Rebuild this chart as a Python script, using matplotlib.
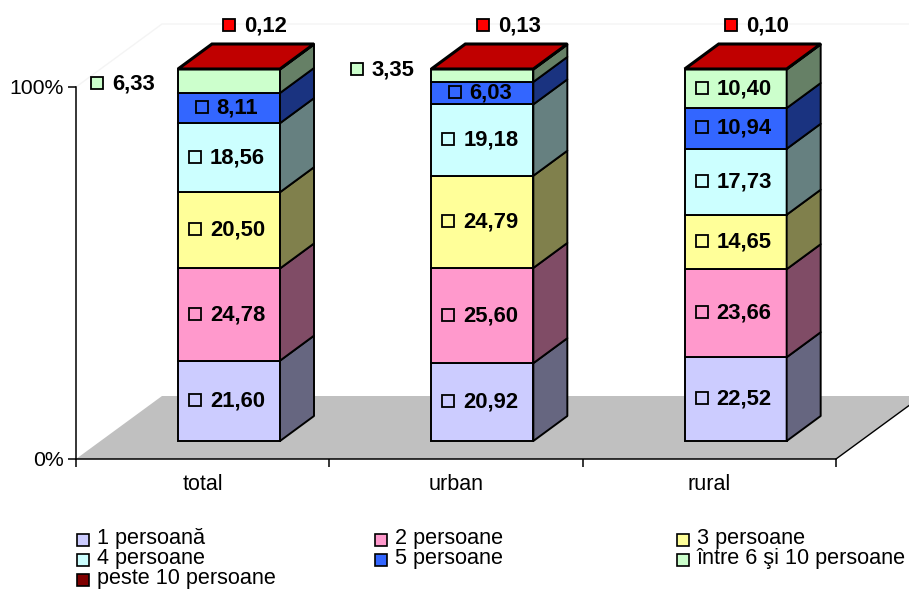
import matplotlib
matplotlib.use("Agg")
import matplotlib.pyplot as plt
from matplotlib.patches import Polygon
from matplotlib.transforms import Affine2D
import numpy as np

plt.rcParams['font.family'] = ['Liberation Sans', 'DejaVu Sans']

categories = ['total', 'urban', 'rural']
series_names = ['1 persoană', '2 persoane', '3 persoane', '4 persoane',
                '5 persoane', 'între 6 şi 10 persoane', 'peste 10 persoane']
pers_1 = [21.60, 20.92, 22.52]
pers_2 = [24.78, 25.60, 23.66]
pers_3 = [20.50, 24.79, 14.65]
pers_4 = [18.56, 19.18, 17.73]
pers_5 = [8.11, 6.03, 10.94]
pers_6_10 = [6.33, 3.35, 10.40]
pers_10 = [0.12, 0.13, 0.10]
series = [pers_1, pers_2, pers_3, pers_4, pers_5, pers_6_10, pers_10]

front = ['#CCCCFF', '#FF99CC', '#FFFF99', '#CCFFFF', '#3366FF', '#CCFFCC', '#FF0000']
side = ['#666680', '#804C66', '#80804C', '#668080', '#1A3380', '#668066', '#800000']
legend_col = ['#CCCCFF', '#FF99CC', '#FFFF99', '#CCFFFF', '#3366FF', '#CCFFCC', '#800000']
top_col = '#C00000'

W, H = 909, 590
fig = plt.figure(figsize=(W / 100, H / 100), dpi=100)
ax = fig.add_axes([76 / W, 1 - 459 / H, 760 / W, 372 / H])
ax.set_xlim(0, 3)
ax.set_ylim(0, 100)
ax.set_facecolor('none')
px = Affine2D().scale(1 / W, -1 / H).translate(0, 1) + fig.transFigure

# projection constants in data units
ux, uy = 253.33, 3.72
floor_dx, floor_dy = 86 / ux, 63 / uy
bar_x0, bar_w = 102 / ux, 102 / ux
base = 18 / uy
depth_x, depth_y = 34 / ux, 25 / uy
LW = 1.4

# faint back wall, floor
ax.plot([0, floor_dx, 3 + floor_dx], [100, 100 + floor_dy, 100 + floor_dy],
        color='#F4F4F4', lw=1, clip_on=False, zorder=0.5)
ax.add_patch(Polygon([(0, 0), (floor_dx, floor_dy), (3 + floor_dx, floor_dy), (3, 0)],
                     closed=True, fc='#C0C0C0', ec='none', clip_on=False, zorder=1))
ax.plot([3, 3 + floor_dx], [0, floor_dy], color='black', lw=1, clip_on=False, zorder=1.5)

cum = np.zeros(3)
xs = np.arange(3) + bar_x0
for j, vals in enumerate(series):
    vals = np.array(vals)
    bottoms = cum + base
    ax.bar(xs, vals, width=bar_w, bottom=bottoms, align='edge', color=front[j],
           edgecolor='black', linewidth=LW, clip_on=False, zorder=3)
    for x, b, v in zip(xs, bottoms, vals):
        r = x + bar_w
        ax.add_patch(Polygon([(r, b), (r + depth_x, b + depth_y),
                              (r + depth_x, b + v + depth_y), (r, b + v)],
                             closed=True, fc=side[j], ec='black', lw=LW,
                             clip_on=False, zorder=3, joinstyle='round'))
    cum = cum + vals

# top faces
for x, t in zip(xs, cum + base):
    ax.add_patch(Polygon([(x, t), (x + depth_x, t + depth_y),
                          (x + bar_w + depth_x, t + depth_y), (x + bar_w, t)],
                         closed=True, fc=top_col, ec='black', lw=LW + 0.8,
                         clip_on=False, zorder=3.5))

# data labels: (series, category) positions that sit outside their segment
outside = {(5, 0): (97, 83, 112), (5, 1): (357, 69, 372),
           (6, 0): (229, 25, 244), (6, 1): (483, 25, 498), (6, 2): (731, 25, 746)}
LABEL_FS = 15.8
MS = 9
cum = np.zeros(3)
for j, vals in enumerate(series):
    for i, v in enumerate(vals):
        s = f'{v:.2f}'.replace('.', ',')
        if (j, i) in outside:
            mx, my, tx = outside[(j, i)]
            ax.plot([mx], [my], marker='s', ms=MS, mfc=front[j], mec='black', mew=1.3,
                    transform=px, clip_on=False, zorder=5)
            ax.text(tx, my + 1, s, transform=px, ha='left', va='center', fontsize=LABEL_FS,
                    fontweight='bold', color='black', zorder=5)
        else:
            cx = i + bar_x0 + bar_w / 2
            cy = cum[i] + v / 2 + base
            ax.plot([cx], [cy], marker='s', ms=MS, mfc=front[j], mec='black', mew=1.3,
                    clip_on=False, zorder=5,
                    transform=ax.transData + Affine2D().translate(-34 if v >= 10 else -27, 1))
            ax.annotate(s, xy=(cx, cy), xytext=(-19 if v >= 10 else -13, 0),
                        textcoords='offset pixels', ha='left', va='center', fontsize=LABEL_FS,
                        fontweight='bold', color='black', zorder=5)
    cum = cum + np.array(vals)

# axes
for sp in ('top', 'right'):
    ax.spines[sp].set_visible(False)
for sp in ('left', 'bottom'):
    ax.spines[sp].set_linewidth(1.1)
    ax.spines[sp].set_zorder(2)
ax.set_yticks([0, 100])
ax.set_yticklabels(['0%', '100%'], fontsize=15.3)
ax.set_xticks([0, 1, 2, 3])
ax.set_xticklabels([])
ax.set_xticks([0.5, 1.5, 2.5], minor=True)
ax.set_xticklabels(categories, minor=True, fontsize=15.5)
ax.tick_params(axis='x', which='major', length=6 * 0.72 * 1.4, width=1.1)
ax.tick_params(axis='x', which='minor', length=0, pad=11)
ax.tick_params(axis='y', length=6 * 0.72 * 1.4, width=1.1, pad=3)

# legend laid out column by column as in the original
col_x = [83, 381, 683]
row_y = [538.5, 558.5, 578.5]
slots = [(0, 0), (1, 0), (2, 0), (0, 1), (1, 1), (2, 1), (0, 2)]
for name, c, (ci, ri) in zip(series_names, legend_col, slots):
    ax.plot([col_x[ci]], [row_y[ri] + 1], marker='s', ms=9, mfc=c, mec='black', mew=1.2,
            transform=px, clip_on=False)
    ax.text(col_x[ci] + 14, row_y[ri], name, transform=px, ha='left', va='center',
            fontsize=15.6, color='black')

fig.savefig('out.png', dpi=100)
